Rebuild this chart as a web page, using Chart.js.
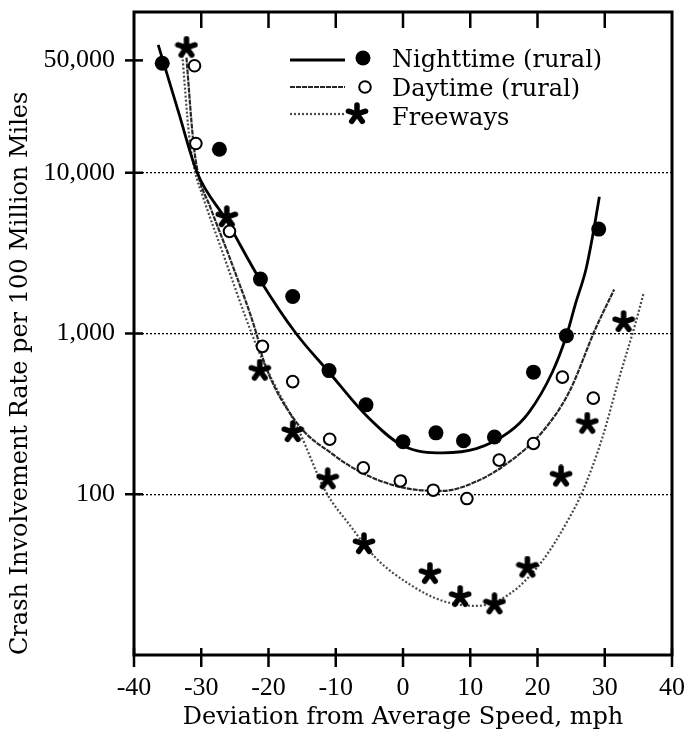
<!DOCTYPE html>
<html><head><meta charset="utf-8">
<script src="https://cdn.jsdelivr.net/npm/chart.js@4.4.0/dist/chart.umd.min.js"></script>
<style>html,body{margin:0;padding:0;background:#fff;}canvas{display:block;}</style>
</head><body>
<canvas id="c" width="688" height="737"></canvas>
<script>
// ---- data ----
const seriesNames = ['Nighttime (rural)', 'Daytime (rural)', 'Freeways'];

// observed points
const nightX = [-35.8, -27.3, -21.2, -16.4, -11.0, -5.5, 0.0, 4.9, 9.0, 13.6, 19.4, 24.3, 29.1];
const nightY = [48000, 14000, 2180, 1700, 588, 360, 212, 241, 215, 227, 575, 968, 4460];
const dayX = [-31.0, -30.8, -25.8, -20.9, -16.4, -10.9, -5.9, -0.4, 4.5, 9.5, 14.3, 19.4, 23.7, 28.3];
const dayY = [46300, 15200, 4320, 832, 502, 220, 146, 121, 106, 94, 163, 207, 535, 396];
const freeX = [-32.2, -26.2, -21.3, -16.4, -11.2, -5.8, 4.0, 8.5, 13.6, 18.5, 23.5, 27.4, 32.8];
const freeY = [60000, 5300, 588, 244, 124, 49, 32, 23, 20.7, 35, 129, 275, 1180];

// fitted curves
const nightCurveX = [-36.4, -33.4, -30.6, -26.3, -21.3, -15.9, -11.0, -5.5, 0.0, 5.9, 10.9, 15.8, 18.7, 22.2, 24.3, 25.7, 27.2, 28.2, 29.2];
const nightCurveY = [62400, 24000, 10000, 5090, 2170, 1000, 574, 310, 200, 181, 192, 244, 322, 574, 968, 1555, 2500, 4040, 7100];
const dayCurveX = [-32.2, -31.2, -30.5, -28.7, -25.3, -21.8, -20.8, -15.9, -10.5, -5.5, 1.0, 5.9, 10.9, 15.8, 20.7, 24.7, 28.6, 31.4];
const dayCurveY = [52000, 15900, 10000, 6170, 2620, 1000, 693, 282, 178, 132, 108, 105, 120, 159, 244, 432, 1065, 1880];
const freeCurveX = [-32.9, -31.8, -31.0, -29.7, -26.8, -22.5, -20.5, -15.4, -11.5, -8.0, -4.0, 1.0, 5.9, 10.9, 15.8, 20.7, 24.7, 26.7, 29.6, 32.1, 34.6, 35.8];
const freeCurveY = [60000, 17000, 10500, 7000, 3170, 1000, 631, 244, 104, 65, 40, 27.5, 21.7, 20.2, 23.9, 38.4, 71, 104, 222, 521, 1170, 1795];

// axes
const xTickValues = [-40, -30, -20, -10, 0, 10, 20, 30, 40];
const yTickValues = [100, 1000, 10000, 50000];
const yTickLabels = ['100', '1,000', '10,000', '50,000'];
const xTitle = 'Deviation from Average Speed, mph';
const yTitle = 'Crash Involvement Rate per 100 Million Miles';

// ---- helpers ----
function pts(xs, ys) { return xs.map((x, i) => ({ x: x, y: ys[i] })); }

function makeStar(size) {
  const c = document.createElement('canvas');
  c.width = c.height = size;
  const g = c.getContext('2d');
  g.translate(size / 2, size / 2);
  g.strokeStyle = '#000';
  g.lineWidth = 5.5;
  g.lineCap = 'round';
  for (let k = 0; k < 5; k++) {
    const a = -Math.PI / 2 + k * 2 * Math.PI / 5;
    g.beginPath();
    g.moveTo(0, 0);
    g.lineTo(Math.cos(a) * (size / 2 - 3), Math.sin(a) * (size / 2 - 3));
    g.stroke();
  }
  return c;
}
const starImg = makeStar(24);

const serif = 'DejaVu Serif';
const tickFont = { family: 'Liberation Serif', size: 26 };

const markerStyles = [
  { pointStyle: 'circle', pointRadius: 7.5, pointBackgroundColor: '#000', pointBorderColor: '#000', pointBorderWidth: 0 },
  { pointStyle: 'circle', pointRadius: 5.8, pointBackgroundColor: '#fff', pointBorderColor: '#000', pointBorderWidth: 2 },
  { pointStyle: starImg, pointRadius: 12, pointBackgroundColor: '#000', pointBorderColor: '#000', pointBorderWidth: 0 }
];
const lineStyles = [
  { borderColor: '#000', borderWidth: 2.8, borderDash: [] },
  { borderColor: '#262626', borderWidth: 2.2, borderDash: [5, 1] },
  { borderColor: '#4a4a4a', borderWidth: 2.2, borderDash: [2, 2] }
];

const pointSets = [pts(nightX, nightY), pts(dayX, dayY), pts(freeX, freeY)];
const curveSets = [pts(nightCurveX, nightCurveY), pts(dayCurveX, dayCurveY), pts(freeCurveX, freeCurveY)];

const datasets = [];
for (let i = 0; i < 3; i++) {
  datasets.push(Object.assign({ label: seriesNames[i], data: pointSets[i], showLine: false }, markerStyles[i]));
}
for (let i = 0; i < 3; i++) {
  datasets.push(Object.assign({
    label: seriesNames[i] + ' fit', data: curveSets[i], showLine: true,
    pointRadius: 0, cubicInterpolationMode: 'monotone', fill: false
  }, lineStyles[i]));
}

const framePlugin = {
  id: 'frame',
  afterDraw(chart) {
    const ctx = chart.ctx, a = chart.chartArea, xs = chart.scales.x, ys = chart.scales.y;
    ctx.save();
    ctx.strokeStyle = '#000';
    ctx.setLineDash([]);
    ctx.lineWidth = 3;
    ctx.strokeRect(a.left, a.top, a.right - a.left, a.bottom - a.top);
    ctx.lineWidth = 2.5;
    xs.ticks.forEach(t => {
      const px = xs.getPixelForValue(t.value);
      ctx.beginPath(); ctx.moveTo(px, a.bottom - 7); ctx.lineTo(px, a.bottom + 12); ctx.stroke();
      if (t.value > xs.min && t.value < xs.max) {
        ctx.beginPath(); ctx.moveTo(px, a.top); ctx.lineTo(px, a.top + 16); ctx.stroke();
      }
    });
    ys.ticks.forEach(t => {
      const py = ys.getPixelForValue(t.value);
      ctx.beginPath(); ctx.moveTo(a.left - 9, py); ctx.lineTo(a.left + 9, py); ctx.stroke();
    });
    // legend
    const rowY = [60, 87, 114];
    const textBase = [67, 95.5, 125];
    const markerX = [363, 365, 357];
    for (let i = 0; i < 3; i++) {
      const ls = lineStyles[i], ms = markerStyles[i];
      ctx.save();
      ctx.strokeStyle = ls.borderColor; ctx.lineWidth = ls.borderWidth; ctx.setLineDash(ls.borderDash);
      ctx.beginPath(); ctx.moveTo(290, rowY[i]); ctx.lineTo(345, rowY[i]); ctx.stroke();
      ctx.restore();
      ctx.save();
      ctx.fillStyle = ms.pointBackgroundColor; ctx.strokeStyle = ms.pointBorderColor; ctx.lineWidth = ms.pointBorderWidth;
      Chart.helpers.drawPoint(ctx, { pointStyle: ms.pointStyle, radius: ms.pointRadius, borderWidth: ms.pointBorderWidth, rotation: 0 }, markerX[i], rowY[i] - (i === 0 ? 2 : 0));
      ctx.restore();
      ctx.fillStyle = '#000';
      ctx.font = '24px "' + serif + '"';
      ctx.textBaseline = 'alphabetic';
      ctx.textAlign = 'left';
      ctx.fillText(seriesNames[i], 392, textBase[i]);
    }
    ctx.restore();
  }
};

new Chart(document.getElementById('c'), {
  type: 'scatter',
  data: { datasets: datasets },
  options: {
    responsive: false,
    animation: false,
    devicePixelRatio: 1,
    layout: { padding: { top: 9, right: 16, left: 0, bottom: 0 } },
    plugins: { legend: { display: false }, tooltip: { enabled: false } },
    scales: {
      x: {
        type: 'linear', min: -40, max: 40,
        afterFit: s => { s.height = 82; s.paddingLeft = 0; s.paddingRight = 0; s.paddingTop = 0; s.paddingBottom = 0; },
        afterBuildTicks: s => { s.ticks = xTickValues.map(v => ({ value: v })); },
        ticks: { font: tickFont, color: '#000', padding: 18, autoSkip: false, maxRotation: 0,
                 callback: v => String(v) },
        grid: { display: false, drawTicks: false },
        border: { display: false },
        title: { display: true, text: xTitle, color: '#000', font: { family: serif, size: 24 }, padding: { top: 0, bottom: 5 } }
      },
      y: {
        type: 'logarithmic', min: 10, max: 100000,
        afterFit: s => { s.width = 134; s.paddingTop = 0; s.paddingBottom = 0; s.paddingLeft = 0; s.paddingRight = 0; },
        afterBuildTicks: s => { s.ticks = yTickValues.map(v => ({ value: v })); },
        ticks: { font: tickFont, color: '#000', padding: 19, autoSkip: false,
                 callback: v => { const k = yTickValues.indexOf(v); return k >= 0 ? yTickLabels[k] : ''; } },
        grid: { drawTicks: false, lineWidth: 1.3,
                color: c => (c.tick && c.tick.value === 50000) ? 'rgba(0,0,0,0)' : '#000' },
        border: { display: false, dash: [2, 2] },
        title: { display: true, text: yTitle, align: 'start', color: '#000', font: { family: serif, size: 24 }, padding: { top: 6, bottom: 0 } }
      }
    }
  },
  plugins: [framePlugin]
});
</script>
</body></html>
